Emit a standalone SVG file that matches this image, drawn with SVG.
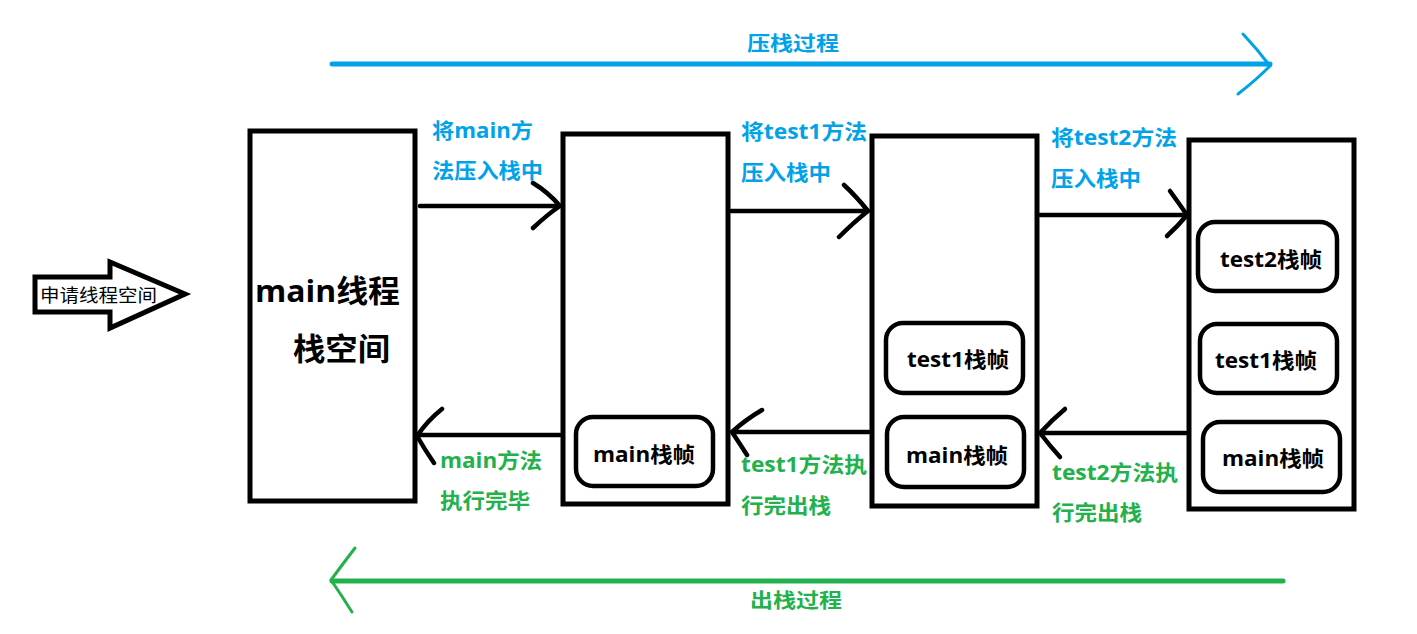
<svg xmlns="http://www.w3.org/2000/svg" width="1417" height="634" viewBox="0 0 1417 634">
<style>
.box{fill:#fff;stroke:#000;stroke-width:5}
.frame{fill:#fff;stroke:#000;stroke-width:4.5}
.ln{fill:none;stroke:#000;stroke-width:4.5;stroke-linecap:round;stroke-linejoin:round}
.t{font-family:"Open Sans","Noto Sans CJK SC",sans-serif;font-weight:bold}
.blue{fill:#00a2e8;font-size:21px}
.green{fill:#22b14c;font-size:21px}
.fr{fill:#000;font-size:21px}
</style>
<rect width="1417" height="634" fill="#fff"/>
<g id="request">
<polygon points="35,277 110,277 110,262 185,294 110,328 110,312 35,312" fill="#fff" stroke="#000" stroke-width="5" stroke-linejoin="miter"/>
<text x="40" y="302" font-family="'Noto Sans CJK SC',sans-serif" font-size="18.5" fill="#000" textLength="117" lengthAdjust="spacingAndGlyphs">申请线程空间</text>
</g>
<g id="main-thread">
<rect class="box" x="250" y="131" width="165" height="370"/>
<text class="t" x="255" y="302" font-size="31" textLength="145" lengthAdjust="spacingAndGlyphs">main线程</text>
<text class="t" x="293" y="360" font-size="31" textLength="97" lengthAdjust="spacingAndGlyphs">栈空间</text>
</g>
<g id="stack1">
<rect class="box" x="563" y="134" width="165" height="370"/>
<g id="s1-main"><rect class="frame" x="576" y="417" width="137" height="69" rx="17"/>
<text class="t fr" x="593" y="462" textLength="102" lengthAdjust="spacingAndGlyphs">main栈帧</text></g>
</g>
<g id="stack2">
<rect class="box" x="872" y="136" width="165" height="370"/>
<g id="s2-test1"><rect class="frame" x="886" y="323" width="137" height="70" rx="17"/>
<text class="t fr" x="907" y="367" textLength="102" lengthAdjust="spacingAndGlyphs">test1栈帧</text></g>
<g id="s2-main"><rect class="frame" x="887" y="417" width="137" height="70" rx="17"/>
<text class="t fr" x="906" y="463" textLength="102" lengthAdjust="spacingAndGlyphs">main栈帧</text></g>
</g>
<g id="stack3">
<rect class="box" x="1189" y="140" width="165" height="369"/>
<g id="s3-test2"><rect class="frame" x="1198" y="222" width="139" height="69" rx="17"/>
<text class="t fr" x="1220" y="267" textLength="102" lengthAdjust="spacingAndGlyphs">test2栈帧</text></g>
<g id="s3-test1"><rect class="frame" x="1200" y="324" width="137" height="69" rx="17"/>
<text class="t fr" x="1215" y="368" textLength="102" lengthAdjust="spacingAndGlyphs">test1栈帧</text></g>
<g id="s3-main"><rect class="frame" x="1203" y="422" width="137" height="70" rx="17"/>
<text class="t fr" x="1222" y="466" textLength="102" lengthAdjust="spacingAndGlyphs">main栈帧</text></g>
</g>
<g id="connectors">
<path class="ln" d="M420,206 L560,206 M533,183 Q548,192 560,206 Q548,214 533,228"/>
<path class="ln" d="M731,211 L868,211 M844,185 Q856,196 868,211 Q854,222 839,237"/>
<path class="ln" d="M1040,215 L1187,215 M1170,191 Q1178,202 1187,215 Q1178,226 1167,236"/>
<path class="ln" d="M560,435 L417,435 M442,409 Q428,420 417,436 Q425,450 434,463"/>
<path class="ln" d="M869,432 L732,432 M762,410 Q745,420 732,432 Q740,444 747,455"/>
<path class="ln" d="M1186,433 L1040,433 M1065,409 Q1052,420 1040,433 Q1050,446 1060,457"/>
<path d="M332,64 L1270,64" fill="none" stroke="#00a2e8" stroke-width="5" stroke-linecap="round"/>
<path d="M1243,34 Q1258,50 1270,66 Q1256,80 1238,94" fill="none" stroke="#00a2e8" stroke-width="3" stroke-linecap="round"/>
<path d="M332,581 L1283,581" fill="none" stroke="#22b14c" stroke-width="5" stroke-linecap="round"/>
<path d="M355,548 Q342,565 331,580 Q342,596 352,612" fill="none" stroke="#22b14c" stroke-width="3" stroke-linecap="round"/>
</g>
<g id="labels">
<text class="t" x="747" y="51" fill="#00a2e8" font-size="20" textLength="92" lengthAdjust="spacingAndGlyphs">压栈过程</text>
<text class="t" x="750" y="608" fill="#22b14c" font-size="20" textLength="92" lengthAdjust="spacingAndGlyphs">出栈过程</text>
<text class="t blue" x="432" y="138" textLength="101" lengthAdjust="spacingAndGlyphs">将main方</text>
<text class="t blue" x="432" y="178" textLength="111" lengthAdjust="spacingAndGlyphs">法压入栈中</text>
<text class="t blue" x="741" y="139" textLength="126" lengthAdjust="spacingAndGlyphs">将test1方法</text>
<text class="t blue" x="741" y="180" textLength="90" lengthAdjust="spacingAndGlyphs">压入栈中</text>
<text class="t blue" x="1051" y="145" textLength="126" lengthAdjust="spacingAndGlyphs">将test2方法</text>
<text class="t blue" x="1051" y="186" textLength="90" lengthAdjust="spacingAndGlyphs">压入栈中</text>
<text class="t green" x="440" y="468" textLength="102" lengthAdjust="spacingAndGlyphs">main方法</text>
<text class="t green" x="440" y="508" textLength="90" lengthAdjust="spacingAndGlyphs">执行完毕</text>
<text class="t green" x="741" y="472" textLength="126" lengthAdjust="spacingAndGlyphs">test1方法执</text>
<text class="t green" x="741" y="513" textLength="90" lengthAdjust="spacingAndGlyphs">行完出栈</text>
<text class="t green" x="1052" y="480" textLength="126" lengthAdjust="spacingAndGlyphs">test2方法执</text>
<text class="t green" x="1052" y="520" textLength="90" lengthAdjust="spacingAndGlyphs">行完出栈</text>
</g>
</svg>
